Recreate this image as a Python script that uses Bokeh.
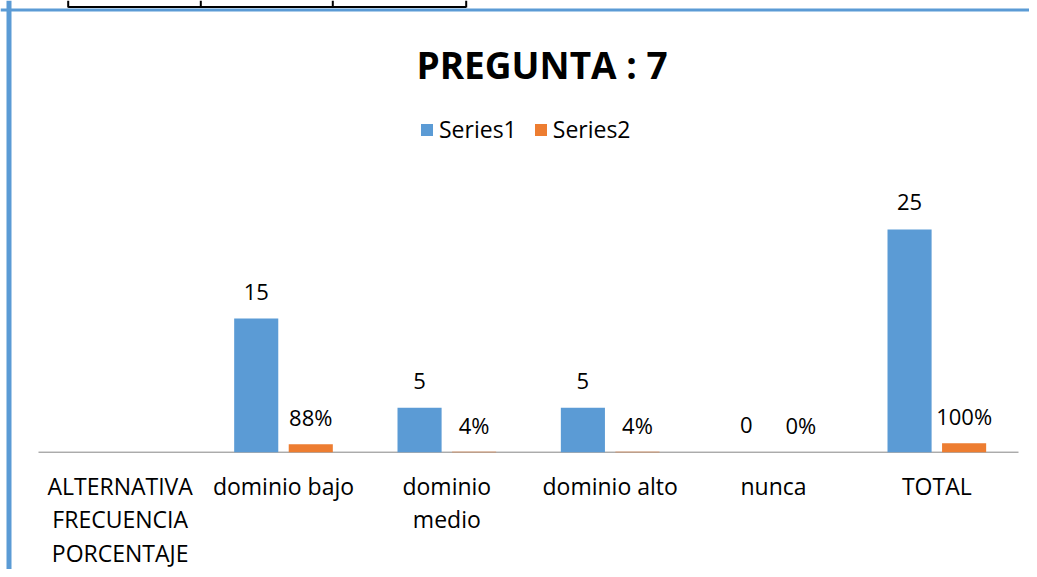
import numpy as np
from bokeh.plotting import figure
from bokeh.models import ColumnDataSource, Range1d, Span, Legend, LegendItem, Label
from bokeh.core.properties import value
from bokeh.embed import file_html
from bokeh.resources import INLINE

# ---- data ----
categories = ["ALTERNATIVA\nFRECUENCIA\nPORCENTAJE", "dominio bajo", "dominio\nmedio",
              "dominio alto", "nunca", "TOTAL"]
series1 = [np.nan, 15, 5, 5, 0, 25]
series2 = [np.nan, 0.88, 0.04, 0.04, 0.0, 1.0]
series1_labels = ["", "15", "5", "5", "0", "25"]
series2_labels = ["", "88%", "4%", "4%", "0%", "100%"]
title_text = "PREGUNTA : 7"
series_names = ["Series1", "Series2"]

W, H = 1029, 569
left_px, right_px = 38, 11
unit = (W - left_px - right_px) / len(categories)
base_px = 451.7          # baseline from top of figure
ppu = 8.91               # pixels per value unit
x0 = -left_px / unit
x1 = len(categories) + right_px / unit
y1 = base_px / ppu
y0 = -(H - base_px) / ppu

def px_x(px):
    return x0 + px / unit

def px_y(py):
    return y1 - py / ppu

FONT = value("Open Sans")
BLUE = "#5b9bd5"
ORANGE = "#ed7d31"

p = figure(width=W, height=H, output_backend="svg", toolbar_location=None,
           x_range=Range1d(x0, x1), y_range=Range1d(y0, y1),
           x_axis_location=None, y_axis_location=None, min_border=0)
p.grid.visible = False
p.outline_line_color = None
p.background_fill_color = "white"
p.border_fill_color = "white"

centers = np.arange(len(categories)) + 0.5
off = 0.167
bw = 0.27

s1 = np.array(series1, dtype=float)
s2 = np.array(series2, dtype=float)
has = ~np.isnan(s1)

# baseline (category axis line)
p.segment(x0=[0], x1=[len(categories)], y0=[0], y1=[0], line_color="#868686", line_width=1)

src1 = ColumnDataSource(dict(x=centers[has] - off, top=s1[has],
                             lab=[l for l, h in zip(series1_labels, has) if h]))
src2 = ColumnDataSource(dict(x=centers[has] + off, top=s2[has],
                             lab=[l for l, h in zip(series2_labels, has) if h]))

r1 = p.vbar(x="x", top="top", bottom=0, width=bw, source=src1, fill_color=BLUE, line_color=None)
r2 = p.vbar(x="x", top="top", bottom=0, width=bw, source=src2, fill_color=ORANGE, line_color=None)

for src in (src1, src2):
    p.text(x="x", y="top", text="lab", source=src, text_align="center",
           text_baseline="alphabetic", y_offset=-27, text_font=FONT,
           text_font_size="22px", text_color="black")

# category labels
p.text(x=centers, y=[0] * len(categories), text=categories, text_align="center",
       text_baseline="top", y_offset=18, text_font=FONT, text_font_size="23px",
       text_color="black", text_line_height=1.04)

# title
p.add_layout(Label(x=px_x(541.5), y=px_y(64), text=title_text, text_align="center",
                   text_baseline="alphabetic", text_font="Open Sans",
                   text_font_style="bold", text_font_size="37px", text_color="black"))

# legend
legend = Legend(items=[LegendItem(label=series_names[0], renderers=[r1]),
                       LegendItem(label=series_names[1], renderers=[r2])],
                orientation="horizontal", location=(419, 424),
                glyph_width=15, glyph_height=15, label_standoff=5, spacing=16,
                padding=0, margin=0, border_line_color=None, background_fill_alpha=0,
                label_text_font="Open Sans", label_text_font_size="23px",
                label_text_color="black")
p.add_layout(legend)

# chart-area border (blue)
p.add_layout(Span(location=px_x(8.5), dimension="height", line_color=BLUE, line_width=5))
p.add_layout(Span(location=px_y(9.5), dimension="width", line_color=BLUE, line_width=3))

# bottom edge of the document table above the chart
tbl_x = [67.7, 200.3, 332.3, 465.7]
p.segment(x0=[px_x(tbl_x[0])], x1=[px_x(tbl_x[-1])], y0=[px_y(6.5)], y1=[px_y(6.5)],
          line_color="black", line_width=2)
p.segment(x0=[px_x(v) for v in tbl_x], x1=[px_x(v) for v in tbl_x],
          y0=[px_y(0)] * 4, y1=[px_y(7)] * 4, line_color="black", line_width=2)

open("out.html", "w").write(file_html(p, INLINE))
